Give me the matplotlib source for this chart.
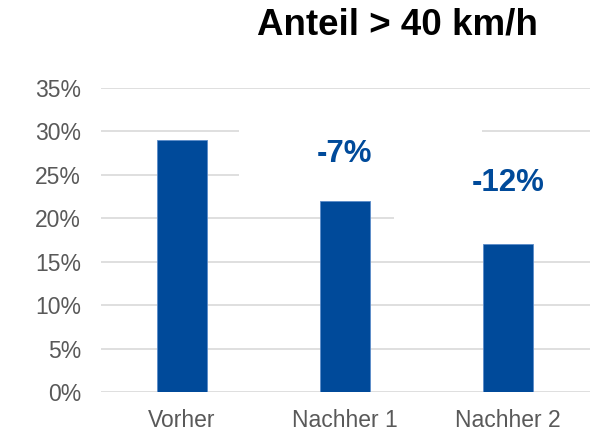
import matplotlib
matplotlib.use("Agg")
import matplotlib.pyplot as plt
from matplotlib.patches import Rectangle

categories = ["Vorher", "Nachher 1", "Nachher 2"]
values = [29, 22, 17]
change_labels = ["", "-7%", "-12%"]
yticks = [0, 5, 10, 15, 20, 25, 30, 35]
title = "Anteil > 40 km/h"

plt.rcParams['font.family'] = ['Liberation Sans', 'DejaVu Sans']

fig = plt.figure(figsize=(6.02, 4.33), dpi=100)
ax = fig.add_axes([100.5/602, 1-392/433, 489/602, 304/433])

blue = "#004A9A"
x = list(range(len(categories)))
ax.bar(x, values, width=0.31, color=blue, edgecolor="#5B8BC9", linewidth=0.6, zorder=3)

ax.set_xlim(-0.5, 2.5)
ax.set_ylim(0, 35)
ax.set_yticks(yticks)
ax.set_yticklabels([f"{t}%" for t in yticks])
ax.set_xticks(x)
ax.set_xticklabels(categories)
ax.tick_params(axis='both', length=0, labelsize=16.5, labelcolor="#595959")
ax.tick_params(axis='y', pad=14)
ax.tick_params(axis='x', pad=12)
for s in ax.spines.values():
    s.set_visible(False)
ax.yaxis.grid(True, color="#D9D9D9", linewidth=1.2, zorder=0)
ax.set_axisbelow(True)

# white label boxes that hide parts of the gridlines
ax.add_patch(Rectangle((0.35, 22.7), 1.49, 9.0, facecolor="white", edgecolor="none", zorder=1))
ax.add_patch(Rectangle((1.30, 17.6), 1.25, 9.0, facecolor="white", edgecolor="none", zorder=1))

ax.text(1, 27.35, change_labels[1], ha="center", va="center", fontsize=22.5,
        fontweight="bold", color=blue, zorder=4)
ax.text(2, 24.05, change_labels[2], ha="center", va="center", fontsize=22.5,
        fontweight="bold", color=blue, zorder=4)

fig.text(397/602, 1-25/433, title, ha="center", va="center", fontsize=26.5,
         fontweight="bold", color="black")

fig.savefig("out.png", dpi=100)
